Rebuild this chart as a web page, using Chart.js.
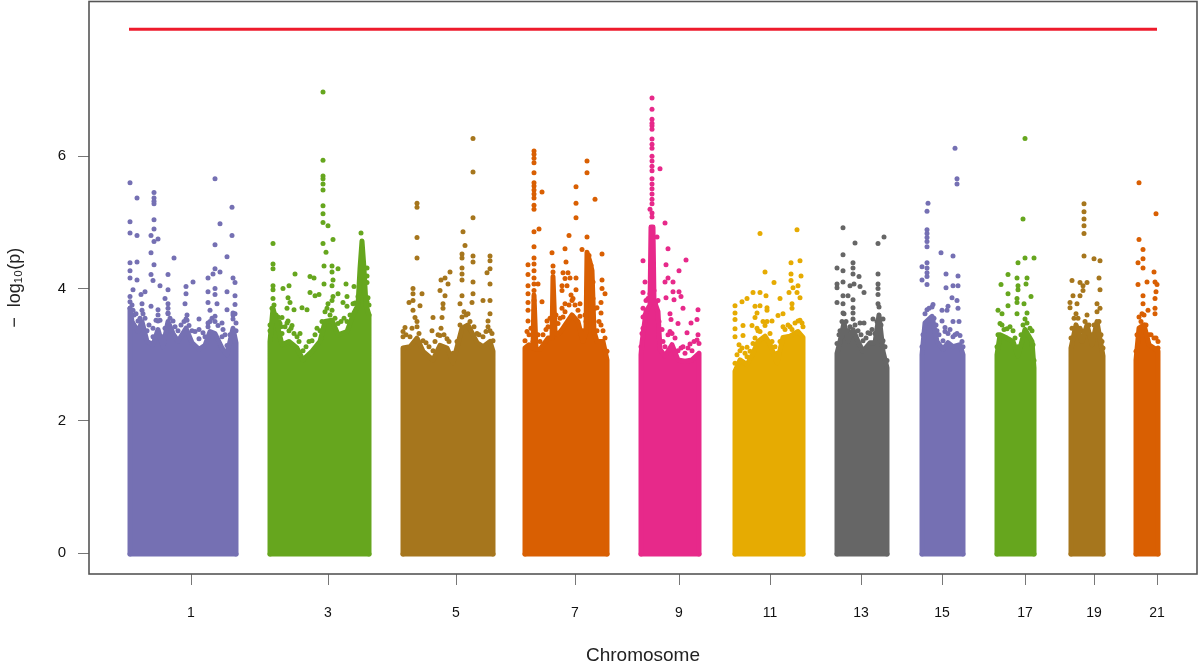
<!DOCTYPE html>
<html><head><meta charset="utf-8">
<style>html,body{margin:0;padding:0;background:#fff}canvas{display:block}</style>
<script src="https://cdn.jsdelivr.net/npm/chart.js@4"></script></head>
<body><canvas id="c" width="1200" height="663"></canvas>
<script>
const chromosomes=["1","3","5","7","9","11","13","15","17","19","21"];
const tickPositions=[62,199,327,446,550,641,732,813,896,965,1028];
const yTicks=[0,2,4,6];
const colors=["#7570B3","#66A61E","#A6761D","#D95F02","#E7298A","#E6AB02","#666666","#7570B3","#66A61E","#A6761D","#D95F02"];
const threshold=7.92, thresholdFrom=0, thresholdTo=1028, massFloor=-0.015;

// dense mass: upper edge of the fully solid part [position, -log10 p]
const mass1=[[1,3.7],[3,3.5],[9,3.35],[13,3.5],[18,3.2],[24,3.15],[29,3.38],[34,3.12],[39,3.5],[44,3.32],[49,3.2],[57,3.4],[63,3.18],[70,3.08],[76,3.14],[81,3.35],[86,3.32],[93,3.1],[98,3.0],[104,3.4],[107,3.18]];
const mass3=[[141,3.2],[144,3.7],[149,3.4],[153,3.15],[160,3.2],[168,3.1],[174,2.92],[183,3.05],[191,3.2],[196,3.5],[203,3.52],[209,3.3],[218,3.35],[224,3.6],[229,3.75],[231,4.3],[233,4.72],[235,4.3],[237,3.75],[240,3.6]];
const mass5=[[274,3.1],[281,3.12],[288,3.25],[294,3.05],[304,2.92],[311,3.14],[318,3.1],[324,2.88],[333,3.4],[339,3.45],[348,3.18],[354,3.12],[361,3.2],[364,3.05]];
const mass7=[[396,3.1],[400,3.15],[404,3.1],[405,3.9],[407,3.08],[411,3.08],[419,3.25],[423,3.25],[424,4.18],[426,3.35],[429,3.3],[434,3.4],[443,3.6],[449,3.5],[454,3.2],[457,3.35],[458,4.55],[461,4.4],[463,4.27],[465,3.35],[468,3.2],[474,3.2],[478,2.92]];
const mass9=[[512,3.0],[513,3.18],[517,3.65],[521,3.75],[522,4.93],[524,4.93],[525,3.82],[529,3.65],[531,3.08],[536,2.98],[543,3.15],[549,2.92],[556,2.9],[563,2.92],[570,3.02]];
const mass11=[[606,2.75],[611,2.92],[618,2.85],[624,3.02],[629,3.2],[636,3.28],[641,3.16],[648,2.88],[654,3.26],[661,3.28],[669,3.35],[674,3.26]];
const mass13=[[708,3.02],[711,3.2],[715,3.48],[719,3.2],[724,3.38],[729,3.2],[734,3.05],[741,3.18],[746,3.18],[750,3.6],[754,3.05],[758,2.8]];
const mass15=[[793,3.0],[796,3.48],[803,3.58],[808,3.2],[814,3.08],[819,3.18],[824,3.12],[831,3.15],[834,3.0]];
const mass17=[[868,3.0],[871,3.3],[878,3.25],[884,3.2],[889,2.98],[896,3.38],[903,3.2],[905,2.8]];
const mass19=[[942,3.1],[947,3.45],[953,3.2],[958,3.45],[963,3.15],[968,3.5],[972,3.15],[974,2.98]];
const mass21=[[1007,2.92],[1010,3.4],[1015,3.45],[1020,3.15],[1025,3.1],[1029,3.05]];

// dots along the speckled ridge just above the solid part
const ridge1=[[1,3.88],[4,3.67],[9,3.51],[13,3.67],[18,3.36],[24,3.27],[29,3.51],[34,3.27],[39,3.62],[44,3.51],[49,3.36],[57,3.54],[63,3.36],[70,3.24],[76,3.27],[81,3.5],[86,3.5],[93,3.27],[98,3.14],[104,3.54],[107,3.36]];
const ridge3=[[141,3.36],[144,3.85],[149,3.57],[153,3.32],[160,3.36],[168,3.27],[174,3.06],[183,3.21],[191,3.36],[196,3.65],[203,3.67],[209,3.47],[218,3.5],[224,3.77],[229,3.88],[237,3.85],[240,3.75]];
const ridge5=[[274,3.27],[281,3.27],[288,3.42],[294,3.21],[304,3.06],[311,3.29],[318,3.24],[324,3.02],[333,3.57],[339,3.62],[348,3.32],[354,3.27],[361,3.36],[364,3.21]];
const ridge7=[[396,3.21],[400,3.3],[404,3.2],[407,3.2],[411,3.2],[419,3.42],[423,3.4],[426,3.5],[429,3.47],[434,3.57],[443,3.82],[449,3.67],[454,3.36],[457,3.5],[465,3.5],[468,3.36],[474,3.36],[478,3.05]];
const ridge9=[[512,3.12],[513,3.32],[517,3.82],[521,3.92],[525,3.97],[529,3.82],[531,3.21],[536,3.12],[543,3.32],[549,3.06],[556,3.02],[563,3.06],[570,3.17]];
const ridge11=[[606,2.87],[611,3.06],[618,2.97],[624,3.17],[629,3.36],[636,3.44],[641,3.32],[648,3.02],[654,3.42],[661,3.42],[669,3.51],[674,3.42]];
const ridge13=[[708,3.17],[711,3.36],[715,3.62],[719,3.36],[724,3.54],[729,3.36],[734,3.21],[741,3.32],[746,3.32],[750,3.72],[754,3.21],[758,2.91]];
const ridge15=[[793,3.12],[796,3.62],[803,3.72],[808,3.36],[814,3.21],[819,3.32],[824,3.27],[831,3.29],[834,3.12]];
const ridge17=[[868,3.12],[871,3.47],[878,3.39],[884,3.36],[889,3.12],[896,3.54],[903,3.36],[905,2.91]];
const ridge19=[[942,3.25],[947,3.62],[953,3.36],[958,3.6],[963,3.3],[968,3.65],[972,3.3],[974,3.1]];
const ridge21=[[1007,3.05],[1010,3.57],[1015,3.6],[1020,3.3],[1025,3.25],[1029,3.2]];

// individual visible SNPs above the mass
const snp1=[[1,5.6],[8,5.37],[25,5.45],[25,5.37],[25,5.32],[25,5.28],[86,5.66],[103,5.23],[1,5.01],[25,5.04],[91,4.98],[25,4.9],[1,4.84],[8,4.8],[22,4.8],[103,4.8],[29,4.75],[25,4.71],[86,4.66],[22,4.54],[45,4.46],[98,4.48],[1,4.39],[8,4.4],[25,4.36],[86,4.3],[91,4.25],[84,4.22],[39,4.21],[1,4.27],[1,4.16],[22,4.21],[79,4.16],[104,4.16],[8,4.13],[24,4.12],[64,4.1],[106,4.09],[57,4.03],[31,4.04],[39,3.98],[4,3.98],[16,3.95],[79,3.95],[86,4],[98,3.95],[57,3.92],[12,3.91],[86,3.91],[106,3.89],[36,3.85],[56,3.77],[39,3.77],[13,3.77],[79,3.79],[88,3.77],[106,3.76],[22,3.73],[29,3.68],[98,3.68],[39,3.63],[81,3.67],[104,3.63],[58,3.6],[70,3.54],[93,3.48],[79,3.48],[1,3.8],[1,3.7],[3,3.75],[5,3.6],[7,3.62],[11,3.55],[14,3.62],[16,3.55],[20,3.45],[24,3.4],[27,3.52],[29,3.6],[31,3.52],[36,3.4],[39,3.7],[41,3.55],[46,3.42],[52,3.45],[55,3.5],[58,3.52],[60,3.44],[66,3.35],[70,3.38],[74,3.33],[79,3.42],[83,3.55],[86,3.58],[89,3.44],[94,3.38],[96,3.3],[101,3.3],[104,3.6],[106,3.62],[107,3.48]];
const snp3=[[194,5.94],[194,5.7],[194,5.66],[194,5.58],[194,5.49],[194,5.25],[194,5.13],[194,5],[199,4.95],[232,4.84],[204,4.74],[194,4.68],[144,4.68],[197,4.55],[144,4.37],[144,4.3],[195,4.34],[203,4.34],[209,4.3],[203,4.25],[238,4.31],[238,4.19],[166,4.22],[181,4.18],[185,4.16],[204,4.13],[195,4.07],[203,4.04],[217,4.07],[238,4.09],[144,4.04],[144,3.98],[154,4],[160,4.04],[225,4.03],[181,3.94],[186,3.89],[190,3.91],[204,3.88],[209,3.92],[218,3.88],[159,3.86],[161,3.79],[203,3.82],[214,3.79],[218,3.73],[199,3.77],[158,3.7],[165,3.68],[173,3.71],[178,3.68],[153,3.56],[159,3.51],[163,3.44],[151,3.47],[171,3.32],[239,3.86],[194,6.97],[141,3.45],[143,3.7],[145,3.75],[147,3.6],[150,3.5],[152,3.42],[156,3.42],[158,3.48],[162,3.4],[165,3.32],[170,3.2],[177,3.12],[180,3.2],[186,3.3],[188,3.4],[193,3.5],[198,3.7],[201,3.6],[206,3.55],[212,3.5],[215,3.55],[221,3.6],[226,3.78],[228,3.7],[238,3.8],[240,3.6]];
const snp5=[[344,6.27],[344,5.76],[288,5.29],[288,5.23],[344,5.07],[334,4.86],[288,4.77],[336,4.65],[288,4.46],[333,4.52],[333,4.46],[344,4.49],[344,4.4],[361,4.49],[361,4.42],[333,4.31],[333,4.22],[333,4.13],[321,4.25],[316,4.16],[312,4.13],[358,4.24],[361,4.3],[319,4.07],[344,4.1],[361,4.07],[284,4],[284,3.92],[293,3.92],[284,3.82],[280,3.79],[291,3.74],[311,3.97],[316,3.89],[314,3.77],[333,3.89],[331,3.77],[344,3.92],[354,3.82],[361,3.82],[343,3.79],[284,3.67],[314,3.7],[304,3.56],[286,3.56],[313,3.56],[361,3.62],[359,3.51],[303,3.36],[276,3.41],[274,3.35],[277,3.3],[283,3.4],[288,3.5],[290,3.32],[297,3.18],[300,3.12],[306,3.2],[309,3.3],[312,3.4],[315,3.3],[320,3.2],[328,3.2],[331,3.45],[335,3.65],[337,3.6],[341,3.5],[345,3.42],[350,3.3],[357,3.35],[359,3.42],[363,3.32]];
const snp7=[[405,6.08],[405,6.03],[405,5.97],[405,5.9],[405,5.75],[405,5.6],[405,5.55],[405,5.49],[405,5.43],[405,5.37],[413,5.46],[405,5.26],[405,5.2],[458,5.93],[458,5.75],[447,5.54],[466,5.35],[447,5.29],[447,5.07],[405,4.86],[410,4.9],[440,4.8],[458,4.78],[405,4.63],[436,4.6],[423,4.54],[453,4.59],[473,4.52],[437,4.4],[424,4.34],[405,4.46],[399,4.36],[405,4.37],[405,4.27],[399,4.21],[405,4.16],[399,4.04],[399,3.92],[399,3.79],[399,3.67],[399,3.51],[405,4.07],[409,4.07],[405,3.97],[405,3.82],[405,3.67],[405,3.51],[413,3.8],[418,3.51],[434,4.24],[439,4.24],[436,4.15],[441,4.16],[447,4.16],[433,4.04],[438,4.04],[447,3.98],[433,3.97],[444,3.85],[436,3.77],[451,3.77],[473,4.13],[473,4],[476,3.92],[472,3.79],[472,3.63],[464,3.85],[468,3.71],[398,3.35],[402,3.4],[409,3.3],[414,3.3],[417,3.38],[421,3.55],[424,4.25],[427,3.6],[431,3.55],[433,3.7],[436,3.65],[440,3.75],[442,3.9],[446,3.75],[451,3.58],[456,3.6],[460,4.5],[462,4.35],[464,4.1],[466,3.7],[470,3.5],[472,3.45],[476,3.25]];
const snp9=[[523,6.88],[523,6.71],[523,6.56],[523,6.5],[523,6.46],[523,6.41],[523,6.26],[523,6.18],[523,6.12],[523,6],[523,5.93],[523,5.85],[523,5.78],[531,5.81],[523,5.66],[523,5.58],[523,5.51],[523,5.43],[523,5.35],[523,5.28],[521,5.2],[523,5.14],[523,5.08],[536,4.99],[528,4.78],[539,4.6],[514,4.42],[523,4.57],[557,4.43],[537,4.36],[550,4.27],[539,4.16],[536,4.1],[544,4.1],[516,4.1],[514,3.94],[544,3.95],[550,3.95],[552,3.88],[537,3.86],[545,3.83],[554,3.7],[569,3.68],[541,3.62],[514,3.7],[514,3.57],[542,3.53],[568,3.53],[562,3.48],[549,3.47],[558,3.33],[569,3.3],[533,3.38],[514,3.4],[516,3.6],[519,3.85],[527,3.8],[530,3.5],[534,3.2],[539,3.3],[541,3.35],[546,3.25],[552,3.1],[554,3.12],[559,3.1],[561,3.16],[565,3.2],[568,3.22]];
const snp11=[[631,4.83],[668,4.89],[662,4.39],[671,4.42],[636,4.25],[662,4.22],[672,4.19],[645,4.09],[662,4.12],[664,4.01],[669,4.04],[660,3.94],[668,3.94],[671,3.86],[624,3.94],[631,3.94],[637,3.89],[618,3.85],[613,3.8],[651,3.85],[606,3.74],[626,3.73],[631,3.74],[638,3.71],[663,3.77],[663,3.7],[606,3.63],[638,3.67],[628,3.63],[649,3.59],[654,3.62],[606,3.53],[626,3.56],[643,3.51],[614,3.44],[606,3.39],[623,3.44],[606,3.27],[614,3.29],[618,3.11],[608,3],[610,3.15],[613,3.1],[616,3.02],[621,3.05],[626,3.25],[628,3.4],[631,3.35],[634,3.5],[638,3.5],[643,3.2],[646,3.12],[651,3.2],[656,3.38],[659,3.45],[663,3.38],[666,3.48],[671,3.52],[673,3.48]];
const snp13=[[714,4.92],[726,4.69],[755,4.78],[749,4.68],[714,4.51],[724,4.39],[708,4.31],[714,4.27],[724,4.31],[724,4.22],[730,4.18],[749,4.22],[708,4.07],[714,4.1],[708,4.01],[721,4.04],[725,4.07],[731,4.03],[735,3.94],[749,4.07],[749,4],[749,3.91],[714,3.89],[719,3.89],[724,3.83],[708,3.79],[714,3.77],[724,3.71],[749,3.77],[714,3.63],[724,3.63],[731,3.48],[735,3.48],[754,3.54],[744,3.54],[710,3.3],[713,3.5],[717,3.5],[721,3.42],[726,3.45],[732,3.3],[737,3.25],[739,3.33],[743,3.38],[748,3.5],[752,3.45],[756,3.12]];
const snp15=[[826,6.12],[828,5.66],[828,5.58],[799,5.29],[798,5.17],[798,4.89],[798,4.83],[798,4.77],[798,4.71],[798,4.63],[812,4.54],[824,4.49],[798,4.39],[793,4.33],[798,4.31],[798,4.24],[817,4.22],[829,4.19],[798,4.18],[793,4.13],[798,4.06],[817,4.01],[824,4.04],[829,4.04],[823,3.86],[828,3.82],[829,3.7],[804,3.76],[819,3.73],[813,3.67],[818,3.67],[824,3.5],[830,3.5],[813,3.51],[816,3.41],[794,3.3],[798,3.68],[800,3.7],[805,3.55],[807,3.45],[810,3.3],[816,3.35],[821,3.38],[826,3.3],[828,3.32],[833,3.2]];
const snp17=[[896,6.27],[894,5.05],[896,4.46],[905,4.46],[889,4.39],[879,4.21],[888,4.16],[898,4.16],[872,4.06],[897,4.07],[889,4.04],[889,3.98],[879,3.92],[902,3.88],[888,3.85],[888,3.79],[895,3.77],[879,3.74],[869,3.67],[873,3.62],[888,3.62],[898,3.63],[869,3.3],[873,3.45],[875,3.38],[881,3.42],[886,3.25],[892,3.3],[894,3.45],[898,3.48],[901,3.4],[904,3.15]];
const snp19=[[955,5.28],[955,5.16],[955,5.05],[955,4.95],[955,4.83],[955,4.49],[965,4.45],[971,4.42],[943,4.12],[970,4.16],[971,3.98],[951,4.09],[958,4.09],[954,4.04],[954,3.97],[944,3.89],[951,3.89],[941,3.79],[948,3.77],[941,3.71],[968,3.77],[971,3.7],[943,3.4],[945,3.55],[949,3.55],[951,3.4],[956,3.5],[960,3.45],[965,3.45],[970,3.5],[973,3.2]];
const snp21=[[1010,5.6],[1027,5.13],[1010,4.74],[1014,4.59],[1014,4.45],[1009,4.39],[1014,4.31],[1025,4.25],[1009,4.06],[1018,4.1],[1026,4.1],[1028,4.06],[1027,3.95],[1014,3.89],[1026,3.85],[1014,3.77],[1026,3.7],[1026,3.62],[1019,3.67],[1008,3.3],[1012,3.5],[1013,3.62],[1017,3.45],[1022,3.3],[1027,3.25],[1029,3.1]];

const masses=[mass1,mass3,mass5,mass7,mass9,mass11,mass13,mass15,mass17,mass19,mass21];
const ridges=[ridge1,ridge3,ridge5,ridge7,ridge9,ridge11,ridge13,ridge15,ridge17,ridge19,ridge21];
const snps=[snp1,snp3,snp5,snp7,snp9,snp11,snp13,snp15,snp17,snp19,snp21];
const xy=a=>a.map(p=>({x:p[0],y:p[1]}));
const datasets=[];
masses.forEach((m,i)=>{
  const x0=m[0][0],xn=m[m.length-1][0];
  datasets.push({data:xy([[x0,massFloor],...m,[xn,massFloor]]),showLine:true,fill:{value:massFloor},backgroundColor:colors[i],borderColor:colors[i],borderWidth:5,borderJoinStyle:'round',borderCapStyle:'round',pointRadius:0,tension:0});
  datasets.push({data:xy([[x0,massFloor],[xn,massFloor]]),showLine:true,fill:false,borderColor:colors[i],borderWidth:5,borderCapStyle:'round',pointRadius:0});
  datasets.push({data:xy([...ridges[i],...snps[i]]),showLine:false,pointRadius:2.5,pointBackgroundColor:colors[i],pointBorderWidth:0});
});
datasets.push({data:xy([[thresholdFrom,threshold],[thresholdTo,threshold]]),showLine:true,fill:false,borderColor:'#EE1B2C',borderWidth:3,pointRadius:0});

const box={id:'box',afterDraw(c){const a=c.chartArea,g=c.ctx;g.save();g.strokeStyle='#555';g.lineWidth=1.6;g.strokeRect(a.left,a.top,a.right-a.left,a.bottom-a.top);g.restore();}};
const family='"Liberation Sans",Arial,sans-serif';
new Chart(document.getElementById('c'),{type:'scatter',data:{datasets},plugins:[box],options:{
  responsive:false,animation:false,
  layout:{autoPadding:false,padding:{top:1.5,right:3,left:0,bottom:0}},
  plugins:{legend:{display:false},tooltip:{enabled:false}},
  scales:{
    x:{type:'linear',min:-40,max:1068,
      afterBuildTicks(s){s.ticks=tickPositions.map(v=>({value:v}));},
      afterFit(s){s.height=89;s.paddingLeft=0;s.paddingRight=0;},
      grid:{drawOnChartArea:false,drawTicks:true,tickLength:11,color:'#777',lineWidth:1},
      border:{display:false},
      ticks:{autoSkip:false,maxRotation:0,padding:20,color:'#111',font:{family,size:14},callback(v){const i=tickPositions.indexOf(v);return i>=0?chromosomes[i]:'';}},
      title:{display:true,text:'Chromosome',color:'#222',font:{family,size:19,lineHeight:1},padding:{top:0,bottom:-2}}},
    y:{type:'linear',min:-0.317,max:8.34,
      afterBuildTicks(s){s.ticks=yTicks.map(v=>({value:v}));},
      afterFit(s){s.width=89;s.paddingTop=0;s.paddingBottom=0;},
      grid:{drawOnChartArea:false,drawTicks:true,tickLength:11,color:'#777',lineWidth:1},
      border:{display:false},
      ticks:{padding:12,color:'#111',font:{family,size:15}},
      title:{display:true,text:'−  log₁₀(p)',color:'#222',font:{family,size:18,lineHeight:1.2},padding:{top:4,bottom:0}}}
  }}});
</script></body></html>
